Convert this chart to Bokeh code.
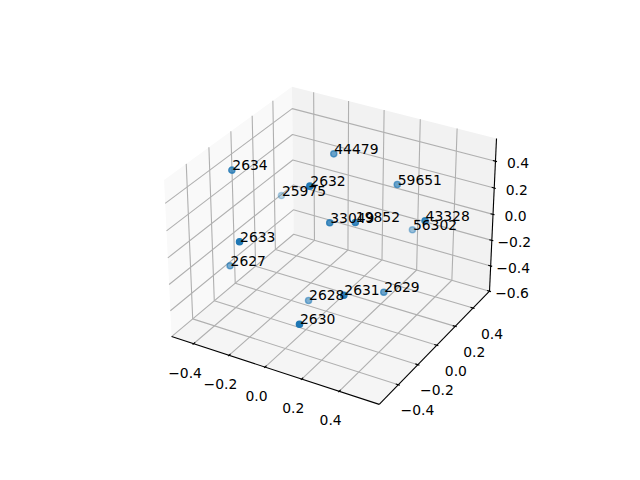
import numpy as np
from bokeh.plotting import figure
from bokeh.embed import file_html
from bokeh.resources import INLINE
from bokeh.core.properties import value

labels = ["2634","2632","25975","44479","59651","2633","2627","2628","2630","33049","19852","43328","56302","2631","2629"]
xs = np.array([-0.413, 0.011, -0.378, -0.057, 0.242, -0.184, -0.375, -0.028, 0.15, 0.071, 0.195, 0.476, 0.271, 0.274, 0.315])
ys = np.array([-0.18, -0.172, 0.221, 0.181, 0.273, -0.493, -0.281, -0.124, -0.52, -0.089, -0.063, 0.11, 0.389, -0.318, 0.008])
zs = np.array([0.429, 0.464, 0.003, 0.46, 0.286, 0.191, -0.208, -0.44, -0.26, 0.166, 0.2, 0.209, -0.12, -0.135, -0.324])
xticks = [-0.4,-0.2,0.0,0.2,0.4]
yticks = [-0.4,-0.2,0.0,0.2,0.4]
zticks = [-0.6,-0.4,-0.2,0.0,0.2,0.4]
xlim = (-0.526,0.61)
ylim = (-0.59,0.59)
zlim = (-0.60,0.567)

box = np.array([4,4,3.])*1.8294640721620434*25/24/np.sqrt(41)
R = box/2
el, az = np.radians(30), np.radians(-60)
W = np.array([np.cos(el)*np.cos(az),np.cos(el)*np.sin(az),np.sin(el)])
U = np.array([-np.sin(az),np.cos(az),0.])
V = np.cross(W,U)
DIST = 10.
def world(x,y,z):
    return np.stack([(np.asarray(x,float)-xlim[0])/(xlim[1]-xlim[0])*box[0],
                     (np.asarray(y,float)-ylim[0])/(ylim[1]-ylim[0])*box[1],
                     (np.asarray(z,float)-zlim[0])/(zlim[1]-zlim[0])*box[2]],-1)
def proj(x,y,z):
    P = world(x,y,z)-R
    d = DIST-P@W
    nx,ny = P@U/d, P@V/d
    return 143.2+(nx+.095)/.185*369.6, 427.2-(ny+.095)/.185*369.6, P@W

p = figure(width=624,height=464,x_range=(0,624),y_range=(464,0),output_backend="svg",toolbar_location=None,min_border=0)
p.axis.visible=False; p.grid.visible=False; p.outline_line_color=None
x0,x1=xlim;y0,y1=ylim;z0,z1=zlim
def pane(a,b,c,col):
    sx,sy,_=proj(a,b,c); p.patch(list(sx),list(sy),fill_color=col,line_color=None)
pane([x0,x0,x0,x0],[y0,y1,y1,y0],[z0,z0,z1,z1],"#f9f9f9")
pane([x0,x1,x1,x0],[y1,y1,y1,y1],[z0,z0,z1,z1],"#f2f2f2")
pane([x0,x1,x1,x0],[y0,y0,y1,y1],[z0,z0,z0,z0],"#f5f5f5")
GR="#b0b0b0";LW=1.11
def line(a,b,c,col,lw=LW):
    sx,sy,_=proj(a,b,c); p.line(list(sx),list(sy),line_color=col,line_width=lw)
for t in xticks: line([t,t,t],[y0,y1,y1],[z0,z0,z1],GR)
for t in yticks: line([x1,x0,x0],[t,t,t],[z0,z0,z1],GR)
for t in zticks: line([x1,x0,x0],[y1,y1,y0],[t,t,t],GR)
line([x0,x1],[y0,y0],[z0,z0],"black")
line([x1,x1],[y0,y1],[z0,z0],"black")
line([x1,x1],[y1,y1],[z0,z1],"black")
def fmt(t): return f"{t:.1f}".replace("-","\u2212")
def tl(sx,sy,s,dx,dy):
    p.text([sx],[sy],text=[s],text_font=value("DejaVu Sans"),text_font_size="13.9px",text_align="center",text_baseline="middle",x_offset=dx,y_offset=dy,text_color="black")
dxr=(x1-x0)*.012;dyr=(y1-y0)*.012;
for t in xticks:
    line([t,t],[y0-dyr*.6,y0+dyr],[z0,z0],"black")
    sx,sy,_=proj(t,y0,z0); tl(float(sx),float(sy),fmt(t),-8.5,29)
for t in yticks:
    line([x1-dxr,x1+dxr*.6],[t,t],[z0,z0],"black")
    sx,sy,_=proj(x1,t,z0); tl(float(sx),float(sy),fmt(t),19,25.5)
for t in zticks:
    line([x1-dxr,x1+dxr*.6],[y1,y1],[t,t],"black")
    sx,sy,_=proj(x1,y1,t); tl(float(sx),float(sy),fmt(t),22.5,2)
sx,sy,dp = proj(xs,ys,zs)
alpha = .3+.7*(dp-dp.min())/(dp.max()-dp.min())
o=np.argsort(dp)
p.scatter(sx[o],sy[o],size=6.2,marker="circle",fill_color="#1f77b4",line_color="#1f77b4",line_width=1.39,fill_alpha=alpha[o],line_alpha=alpha[o])
p.text(sx,sy,text=labels,text_font=value("DejaVu Sans"),text_font_size="13.9px",text_align="left",text_baseline="middle",y_offset=-5,x_offset=0.5,text_color="black")
open("out.html","w").write(file_html(p,INLINE))
